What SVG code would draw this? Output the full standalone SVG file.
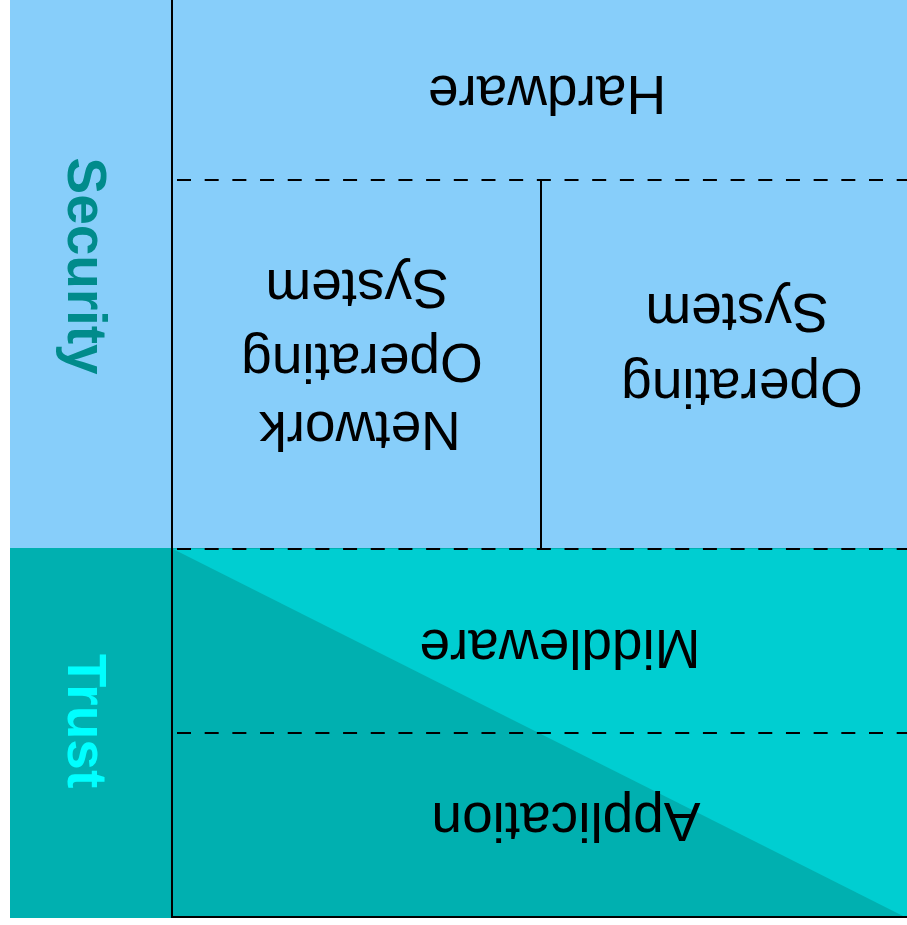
<svg xmlns="http://www.w3.org/2000/svg" width="907" height="925" viewBox="0 0 907 925">
  <style>
    .lbl { font-family: "Liberation Sans", Arial, sans-serif; font-size: 55px; fill: #000; text-anchor: middle; }
    .side { font-family: "Liberation Sans", Arial, sans-serif; font-size: 55px; font-weight: bold; text-anchor: middle; }
    .dash { stroke: #000; stroke-width: 2; stroke-dasharray: 14 13.68; fill: none; }
    .solid { stroke: #000; stroke-width: 2; fill: none; }
  </style>

  <!-- background bands -->
  <g id="bands">
    <rect x="10" y="0" width="897" height="548" fill="#87CEFA"/>
    <rect x="10" y="548" width="897" height="370" fill="#00B0B0"/>
    <polygon points="173,549 907,549 907,918" fill="#00CED1"/>
  </g>

  <!-- side labels -->
  <g id="security">
    <text class="side" fill="#008B8B" transform="translate(68,266) rotate(90)">Security</text>
  </g>
  <g id="trust">
    <text class="side" fill="#00FFFF" transform="translate(68,721) rotate(90)">Trust</text>
  </g>

  <!-- layer dividers -->
  <g id="connectors">
    <line class="solid" x1="172" y1="0" x2="172" y2="918"/>
    <line class="solid" x1="172" y1="917" x2="907" y2="917"/>
    <line class="solid" x1="541" y1="180" x2="541" y2="548"/>
    <line class="dash" x1="177" y1="180" x2="907" y2="180"/>
    <line class="dash" x1="177" y1="549" x2="907" y2="549"/>
    <line class="dash" x1="177" y1="733" x2="907" y2="733"/>
  </g>

  <!-- layers (upside down) -->
  <g id="hardware">
    <text class="lbl" transform="translate(547,76) rotate(180)">Hardware</text>
  </g>
  <g id="network-os">
    <text class="lbl" transform="translate(360,412) rotate(180)">Network</text>
    <text class="lbl" transform="translate(362,344) rotate(180)">Operating</text>
    <text class="lbl" transform="translate(357,270) rotate(180)">System</text>
  </g>
  <g id="os">
    <text class="lbl" transform="translate(742,369) rotate(180)">Operating</text>
    <text class="lbl" transform="translate(737,294) rotate(180)">System</text>
  </g>
  <g id="middleware">
    <text class="lbl" transform="translate(560,630) rotate(180)">Middleware</text>
  </g>
  <g id="application">
    <text class="lbl" transform="translate(566,803) rotate(180)">Application</text>
  </g>
</svg>
